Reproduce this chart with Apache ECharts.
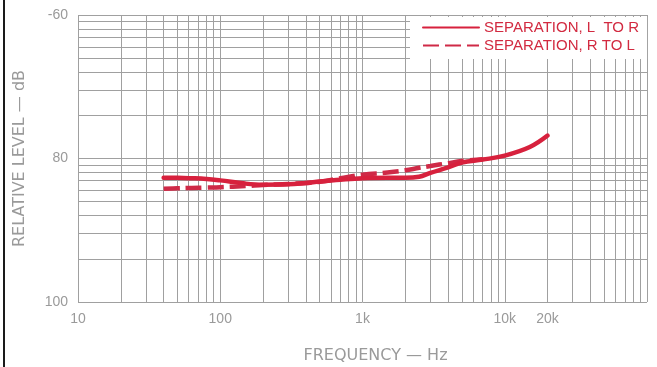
<!DOCTYPE html>
<html>
<head>
<meta charset="utf-8">
<script src="https://cdn.jsdelivr.net/npm/echarts@6/dist/echarts.min.js"></script>
<style>
html,body{margin:0;padding:0;background:#fff;}
#c{width:657px;height:367px;}
</style>
</head>
<body>
<div id="c"></div>
<script>
// ---- data ----
const freqLR  = [40, 50, 63, 80, 100, 150, 200, 300, 400, 500, 700, 1000, 1500, 2000, 2500, 3000, 4000, 5000, 7000, 10000, 15000, 20000];
const levelLR = [-82.7, -82.7, -82.75, -82.85, -83.05, -83.5, -83.65, -83.6, -83.4, -83.2, -82.95, -82.75, -82.7, -82.7, -82.55, -82.0, -81.25, -80.55, -80.15, -79.6, -78.4, -76.8];

const freqRL  = [40, 50, 63, 80, 100, 150, 200, 300, 400, 500, 700, 1000, 1500, 2000, 2500, 3000, 4000, 5000, 7000];
const levelRL = [-84.2, -84.15, -84.1, -84.05, -84.0, -83.85, -83.7, -83.55, -83.4, -83.25, -82.75, -82.25, -81.95, -81.65, -81.3, -81.05, -80.65, -80.35, -80.1];

const seriesNames = ['SEPARATION, L  TO R', 'SEPARATION, R TO L'];

const xTickValues = [10, 100, 1000, 10000, 20000];
const xTickLabels = ['10', '100', '1k', '10k', '20k'];
const yTickValues = [-100, -80, -60];
const yTickLabels = ['100', '80', '-60'];

// log-paper grid (graph paper lines, not data)
const xGrid = [];
for (let d = 10; d < 100000; d *= 10) for (let k = 1; k < 10; k++) xGrid.push(d * k);
xGrid.push(100000);
const yGrid = [];
for (let d = 1; d < 100; d *= 10) for (let k = 1; k < 10; k++) yGrid.push(d * k);
yGrid.push(100);

const gridColor = '#a0a0a0';
const red1 = '#d7213d';
const red2 = '#cf2a47';
const textGray = '#9a9a9a';

const chart = echarts.init(document.getElementById('c'), null, {renderer: 'canvas'});

chart.setOption({
  animation: false,
  backgroundColor: '#fff',
  grid: {left: 78, right: 10, top: 15, bottom: 65, outerBoundsMode: 'none', containLabel: false},
  xAxis: {
    type: 'log', logBase: 10, min: 10, max: 100000,
    axisLine: {show: false}, axisTick: {show: false}, splitLine: {show: false},
    axisLabel: {
      customValues: xTickValues,
      margin: 10,
      color: textGray, fontSize: 14, fontFamily: 'Liberation Sans',
      formatter: v => { const i = xTickValues.indexOf(v); return i >= 0 ? xTickLabels[i] : ''; }
    },
    name: 'FREQUENCY — Hz', nameLocation: 'middle', nameGap: 46,
    nameTextStyle: {color: textGray, fontSize: 16, fontFamily: 'DejaVu Sans', padding: [0, 0, 0, 26]}
  },
  yAxis: [{
    type: 'value', min: -100, max: -60, interval: 20,
    axisLine: {show: false}, axisTick: {show: false}, splitLine: {show: false},
    axisLabel: {
      margin: 10, color: textGray, fontSize: 14, fontFamily: 'Liberation Sans',
      formatter: v => { const i = yTickValues.indexOf(v); return i >= 0 ? yTickLabels[i] : ''; }
    },
    name: 'RELATIVE LEVEL — dB', nameLocation: 'middle', nameGap: 50,
    nameTextStyle: {color: textGray, fontSize: 16, fontFamily: 'DejaVu Sans'}
  }, {
    type: 'log', logBase: 10, min: 1, max: 100, show: false
  }],
  legend: {
    orient: 'vertical', left: 410, top: 17, z: 20,
    backgroundColor: '#fff',
    padding: [3, 8, 6, 12],
    itemWidth: 56, itemHeight: 14, itemGap: 3,
    itemStyle: {opacity: 0},
    textStyle: {color: '#d22a40', fontSize: 15, fontFamily: 'Liberation Sans'},
    data: seriesNames
  },
  graphic: [{
    type: 'rect', shape: {x: 3, y: 0, width: 2, height: 367},
    style: {fill: '#1a1a1a'}, silent: true
  }],
  series: [{
    name: 'paper', type: 'line', data: [], xAxisIndex: 0, yAxisIndex: 1, z: 1,
    silent: true,
    markLine: {
      z: 1,
      silent: true, symbol: 'none', animation: false,
      label: {show: false},
      lineStyle: {color: gridColor, width: 1, type: 'solid'},
      emphasis: {disabled: true},
      data: xGrid.map(v => ({xAxis: v})).concat(yGrid.map(v => ({yAxis: v})))
    }
  }, {
    name: seriesNames[0], type: 'line', smooth: 0.4, symbol: 'none', z: 4,
    data: freqLR.map((f, i) => [f, levelLR[i]]),
    lineStyle: {color: red1, width: 4.5, cap: 'round'},
    itemStyle: {color: red1}
  }, {
    name: seriesNames[1], type: 'line', smooth: 0.4, symbol: 'none', z: 3,
    data: freqRL.map((f, i) => [f, levelRL[i]]),
    lineStyle: {color: red2, width: 4.5, type: [16, 6]},
    itemStyle: {color: red2}
  }]
});
</script>
</body>
</html>
